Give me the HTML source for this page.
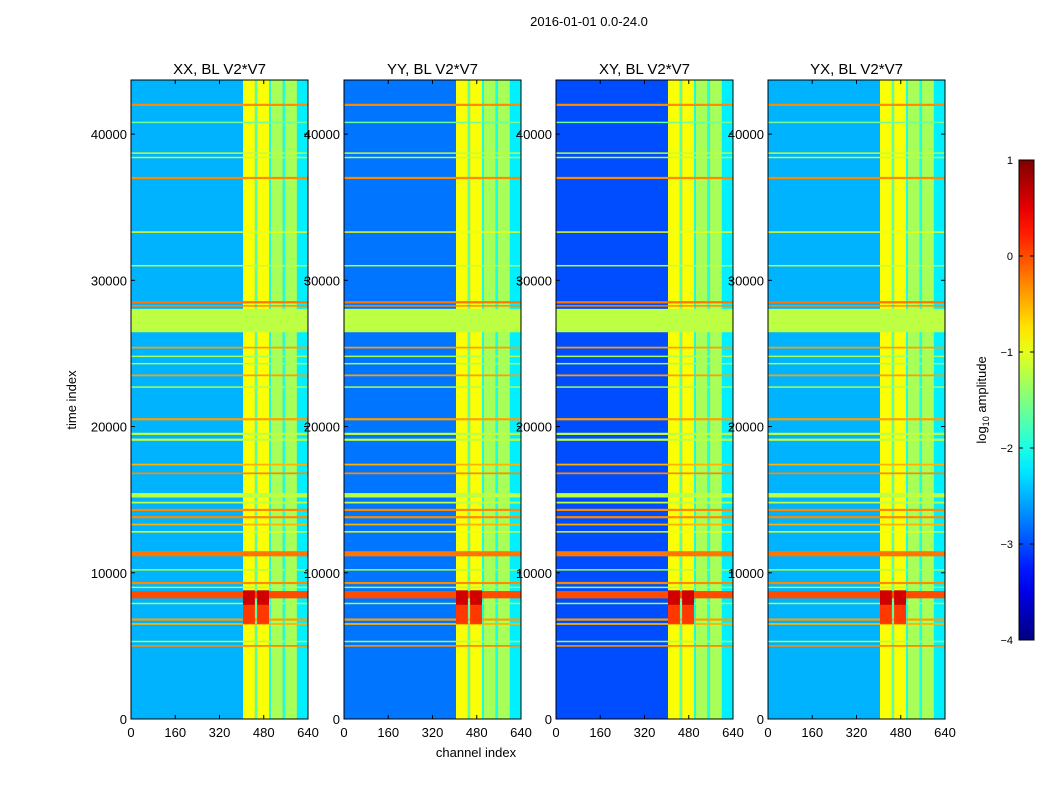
<!DOCTYPE html>
<html><head><meta charset="utf-8">
<style>
body{margin:0;background:#fff;}
svg{display:block;font-family:"Liberation Sans",sans-serif;}
</style></head>
<body>
<svg id="chart" width="1050" height="800" viewBox="0 0 1050 800" xmlns="http://www.w3.org/2000/svg">
<rect width="1050" height="800" fill="#fff"/>
<text x="589" y="26" font-size="13" text-anchor="middle">2016-01-01 0.0-24.0</text>
<text x="476" y="757" font-size="13" text-anchor="middle">channel index</text>
<text transform="translate(76,400) rotate(-90)" font-size="13" text-anchor="middle">time index</text>
<g id="panels"></g>
<g id="cbar"></g>
</svg>
<script>
// ---- data ----
const panelTitles = ["XX, BL V2*V7","YY, BL V2*V7","XY, BL V2*V7","YX, BL V2*V7"];
const panelBase = [-2.5, -2.8, -3.0, -2.5];
const xTicks = [0,160,320,480,640];
const yTicks = [0,10000,20000,30000,40000];
const cbTicks = [1,0,-1,-2,-3,-4];
// channel bands: start, end, value
const bandStart = [405,448,456,499,506,549,557,600];
const bandEnd   = [448,456,499,506,549,557,600,640];
const bandValue = [-0.9,-1.7,-0.9,-2.0,-1.3,-2.0,-1.3,-2.2];
// horizontal flagged rows: time, thickness, value
const rowTime  = [42000,40800,38700,38400,37000,33300,31000,28500,28250,27250,25400,24800,24300,23500,22700,20500,19500,19100,17400,16800,15300,14800,14300,13800,13300,12800,11300,10200,9300,9000,8500,7900,6800,6500,5300,5000];
const rowWidth = [150,100,100,100,150,100,100,150,100,1600,120,100,100,120,100,150,150,150,120,120,300,120,150,150,120,100,350,100,150,100,500,100,150,120,100,120];
const rowValue = [-0.3,-1.6,-1.2,-1.2,-0.3,-1.0,-1.2,-0.2,-0.3,-1.2,-0.4,-1.3,-1.3,-0.4,-1.3,-0.4,-1.2,-1.2,-0.5,-0.3,-1.2,-1.2,-0.3,-0.3,-0.5,-1.0,-0.2,-1.3,-0.3,-1.3,0.0,-1.3,-0.4,-0.5,-1.3,-0.3];
// hot zones (channels x time)
const hotChStart = [405, 456, 405, 456];
const hotChEnd   = [448, 499, 448, 499];
const hotTStart  = [7800, 7800, 6500, 6500];
const hotTEnd    = [8800, 8800, 7800, 7800];
const hotValue   = [0.6, 0.6, 0.1, 0.1];

// ---- helpers ----
const panelX = [131,344,556,768], panelW = 177, yTop = 80, yBot = 719;
const tMax = 43700, vmin=-4, vmax=1;
function jet(v){
  let t=(v-vmin)/(vmax-vmin); t=Math.max(0,Math.min(1,t));
  const f=x=>Math.max(0,Math.min(1,x));
  const r=f(1.5-Math.abs(4*t-3)), g=f(1.5-Math.abs(4*t-2)), b=f(1.5-Math.abs(4*t-1));
  return `rgb(${Math.round(r*255)},${Math.round(g*255)},${Math.round(b*255)})`;
}
const NS="http://www.w3.org/2000/svg";
function el(tag,attrs,parent){const e=document.createElementNS(NS,tag);for(const k in attrs)e.setAttribute(k,attrs[k]);parent.appendChild(e);return e;}
const yScale = t => yBot - t/tMax*(yBot-yTop);
const panelsG = document.getElementById('panels');

panelTitles.forEach((title,p)=>{
  const x0 = panelX[p];
  const xs = c => x0 + c/640*panelW;
  const g = el('g',{},panelsG);
  
  
  const bg = el('rect',{x:x0,y:yTop,width:panelW,height:yBot-yTop,fill:jet(panelBase[p])},g);
  
  
  bandStart.forEach((s,i)=>{
    const r = el('rect',{x:xs(s),y:yTop,width:xs(bandEnd[i])-xs(s),height:yBot-yTop,fill:jet(Math.max(bandValue[i],panelBase[p]+0.3))},g);
    
    
  });
  rowTime.forEach((t,i)=>{
    const y1=yScale(t+rowWidth[i]/2), y2=yScale(t-rowWidth[i]/2);
    const r = el('rect',{x:x0,y:y1,width:panelW,height:Math.max(1,y2-y1),fill:jet(rowValue[i])},g);
    
    
  });
  hotChStart.forEach((s,i)=>{
    const y1=yScale(hotTEnd[i]), y2=yScale(hotTStart[i]);
    const r = el('rect',{x:xs(s),y:y1,width:xs(hotChEnd[i])-xs(s),height:y2-y1,fill:jet(hotValue[i])},g);
    
    
  });
  const fr = el('rect',{x:x0,y:yTop,width:panelW,height:yBot-yTop,fill:'none',stroke:'#000','stroke-width':1},g);
  
  
  const tt = el('text',{x:x0+panelW/2,y:74,'font-size':15,'text-anchor':'middle'},g);
  tt.textContent=title;
  
  
  xTicks.forEach(v=>{
    const x=xs(v);
    el('line',{x1:x,x2:x,y1:yBot,y2:yBot-4,stroke:'#000'},g);
    el('line',{x1:x,x2:x,y1:yTop,y2:yTop+4,stroke:'#000'},g);
    const t=el('text',{x:x,y:737,'font-size':13,'text-anchor':'middle'},g);
    t.textContent=v;
    
    
  });
  yTicks.forEach(v=>{
    const y=yScale(v);
    el('line',{x1:x0,x2:x0+4,y1:y,y2:y,stroke:'#000'},g);
    el('line',{x1:x0+panelW,x2:x0+panelW-4,y1:y,y2:y,stroke:'#000'},g);
    const t=el('text',{x:x0-4,y:y+5,'font-size':13,'text-anchor':'end'},g);
    t.textContent=v;
    
    
  });
});

// colorbar
const cb=document.getElementById('cbar');
const cbX=1019,cbW=15,cbTop=160,cbBot=640;
const defs=el('defs',{},cb);
const grad=el('linearGradient',{id:'jetg',x1:0,y1:1,x2:0,y2:0},defs);
for(let i=0;i<=20;i++){const v=vmin+(vmax-vmin)*i/20;el('stop',{offset:i/20,'stop-color':jet(v)},grad);}
el('rect',{x:cbX,y:cbTop,width:cbW,height:cbBot-cbTop,fill:'url(#jetg)',stroke:'#000'},cb);
cbTicks.forEach(v=>{
  const y=cbBot-(v-vmin)/(vmax-vmin)*(cbBot-cbTop);
  el('line',{x1:cbX,x2:cbX+4,y1:y,y2:y,stroke:'#000'},cb);
  el('line',{x1:cbX+cbW,x2:cbX+cbW-4,y1:y,y2:y,stroke:'#000'},cb);
  const t=el('text',{x:cbX-6,y:y+4,'font-size':11,'text-anchor':'end'},cb);
  t.textContent=v<0?'\u2212'+(-v):String(v);
  
  
});
const cl=el('text',{transform:'translate(986,400) rotate(-90)','font-size':13,'text-anchor':'middle'},cb);
cl.innerHTML='log<tspan font-size="9" dy="3">10</tspan><tspan dy="-3"> amplitude</tspan>';


</script>
</body></html>
